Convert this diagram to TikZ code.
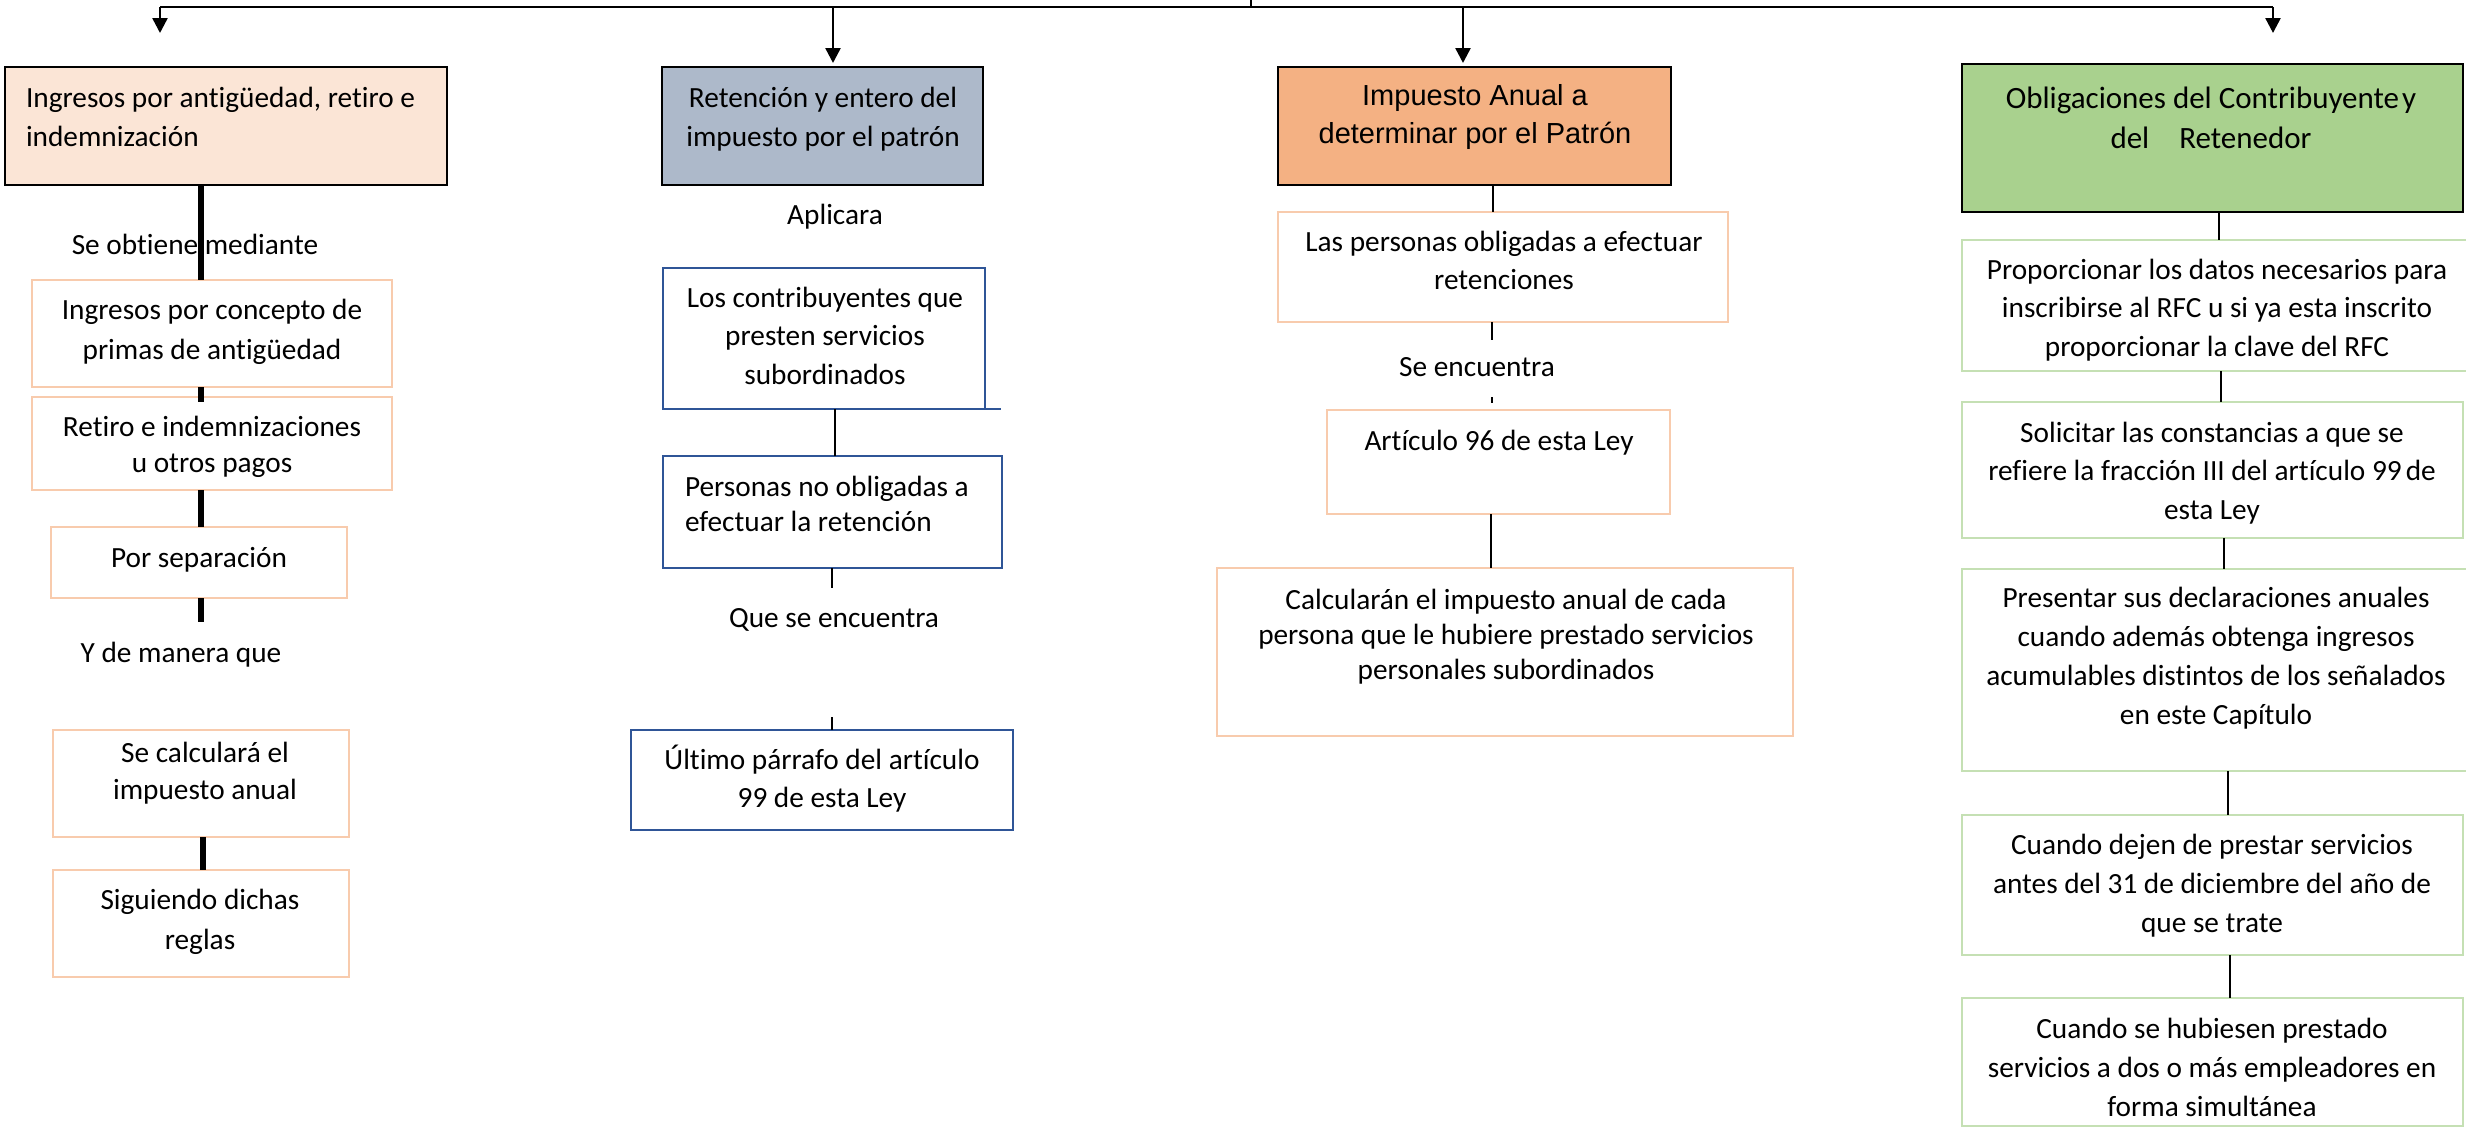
\documentclass[tikz,border=0pt]{standalone}
\usepackage{fontspec}
\setmainfont{Carlito}[Ligatures=NoCommon]
\newfontfamily\arialf{Liberation Sans}
\usetikzlibrary{arrows.meta}
\definecolor{peachfill}{HTML}{FBE5D6}
\definecolor{grayblue}{HTML}{ADB9CA}
\definecolor{orangefill}{HTML}{F4B183}
\definecolor{greenfill}{HTML}{A9D18E}
\definecolor{orangeline}{HTML}{F8CBAD}
\definecolor{blueline}{HTML}{2F5597}
\definecolor{greenline}{HTML}{C5E0B4}
\begin{document}
\begin{tikzpicture}[x=1pt,y=-1pt,
  box/.style={rectangle, inner sep=0pt, outer sep=0pt, line width=2.5pt, draw},
  hdr/.style={box, draw=black, line width=2.8pt},
  ob/.style={box, draw=orangeline},
  bb/.style={box, draw=blueline},
  gb/.style={box, draw=greenline},
  txt/.style={inner sep=0pt, outer sep=0pt, align=center, anchor=north, font=\fontsize{29.3}{#1}\selectfont},
  txt/.default=38.5,
  thk/.style={line width=6pt},
  thn/.style={line width=2.5pt},
  arr/.style={line width=2.5pt, -{Triangle[width=15pt,length=15pt]}}]
\useasboundingbox (0,0) rectangle (2466,1135);

% ---------- boxes ----------
\node[hdr, fill=peachfill, minimum width=442pt, minimum height=118pt] (B1) at (226,126) {};
\node[ob, minimum width=360pt, minimum height=107pt] (B2) at (212,333.5) {};
\node[ob, minimum width=360pt, minimum height=93pt] (B3) at (212,443.5) {};
\node[ob, minimum width=296pt, minimum height=71pt] (B4) at (199,562.5) {};
\node[ob, minimum width=296pt, minimum height=107pt] (B5) at (201,783.5) {};
\node[ob, minimum width=296pt, minimum height=107pt] (B6) at (201,923.5) {};

\node[hdr, fill=grayblue, minimum width=321pt, minimum height=118pt] (B7) at (822.5,126) {};
\node[bb, minimum width=322pt, minimum height=141pt] (B8) at (824,338.5) {};
\node[bb, minimum width=339pt, minimum height=112pt] (B9) at (832.5,512) {};
\node[bb, minimum width=382pt, minimum height=100pt] (B10) at (822,780) {};

\node[hdr, fill=orangefill, minimum width=393pt, minimum height=118pt] (B11) at (1474.5,126) {};
\node[ob, minimum width=450pt, minimum height=110pt] (B12) at (1503,267) {};
\node[ob, minimum width=343pt, minimum height=104pt] (B13) at (1498.5,462) {};
\node[ob, minimum width=576pt, minimum height=168pt] (B14) at (1505,652) {};

\node[hdr, fill=greenfill, minimum width=501pt, minimum height=148pt] (B15) at (2212.5,138) {};
\node[gb, minimum width=508pt, minimum height=131pt] (B16) at (2216,305.5) {};
\node[gb, minimum width=501pt, minimum height=136pt] (B17) at (2212.5,470) {};
\node[gb, minimum width=508pt, minimum height=202pt] (B18) at (2216,670) {};
\node[gb, minimum width=501pt, minimum height=140pt] (B19) at (2212.5,885) {};
\node[gb, minimum width=501pt, minimum height=128pt] (B20) at (2212.5,1062) {};

% ---------- texts ----------
\node[txt=39, anchor=north west, align=left] (T1) at (26,83) {\rule{0pt}{24pt}Ingresos por antigüedad, retiro e\\indemnización};
\node[txt=40] (T2) at (212,295) {\rule{0pt}{24pt}Ingresos por concepto de\\primas de antigüedad};
\node[txt=36] (T3) at (212,412) {\rule{0pt}{24pt}Retiro e indemnizaciones\\u otros pagos};
\node[txt] (T4) at (199,543) {\rule{0pt}{24pt}Por separación};
\node[txt=37] (T5) at (205,738) {\rule{0pt}{24pt}Se calculará el\\impuesto anual};
\node[txt=40] (T6) at (200,885) {\rule{0pt}{24pt}Siguiendo dichas\\reglas};

\node[txt=39] (T7) at (823,83) {\rule{0pt}{24pt}Retención y entero del\\impuesto por el patrón};
\node[txt] (T8) at (825,283) {\rule{0pt}{24pt}Los contribuyentes que\\presten servicios\\subordinados};
\node[txt=35, anchor=north west, align=left] (T9) at (685,472) {\rule{0pt}{24pt}Personas no obligadas a\\efectuar la retención};
\node[txt=38] (T10) at (822,745) {\rule{0pt}{24pt}Último párrafo del artículo\\99 de esta Ley};

\node[txt=38, font=\arialf\fontsize{29}{38}\selectfont] (T11) at (1475,81) {\rule{0pt}{24pt}Impuesto Anual a\\determinar por el Patrón};
\node[txt=38] (T12) at (1504,227) {\rule{0pt}{24pt}Las personas obligadas a efectuar\\retenciones};
\node[txt] (T13) at (1499,426) {\rule{0pt}{24pt}Artículo 96 de esta Ley};
\node[txt=35] (T14) at (1506,585) {\rule{0pt}{24pt}Calcularán el impuesto anual de cada\\persona que le hubiere prestado servicios\\personales subordinados};

\node[txt=40, font=\fontsize{31}{40}\selectfont] (T15) at (2211,84) {\rule{0pt}{24pt}Obligaciones del Contribuyente\hspace{3pt}y\\del\hspace{30pt}Retenedor};
\node[txt] (T16) at (2217,255) {\rule{0pt}{24pt}Proporcionar los datos necesarios para\\inscribirse al RFC u si ya esta inscrito\\proporcionar la clave del RFC};
\node[txt] (T17) at (2212,418) {\rule{0pt}{24pt}Solicitar las constancias a que se\\refiere la fracción III del artículo 99\hspace{4pt}de\\esta Ley};
\node[txt=39] (T18) at (2216,583) {\rule{0pt}{24pt}Presentar sus declaraciones anuales\\cuando además obtenga ingresos\\acumulables distintos de los señalados\\en este Capítulo};
\node[txt=39] (T19) at (2212,830) {\rule{0pt}{24pt}Cuando dejen de prestar servicios\\antes del 31 de diciembre del año de\\que se trate};
\node[txt=39] (T20) at (2212,1014) {\rule{0pt}{24pt}Cuando se hubiesen prestado\\servicios a dos o más empleadores en\\forma simultánea};

% ---------- top bus ----------
\coordinate (s0) at (1251,0);
\coordinate (s1) at (1251,7);
\coordinate (h1) at (160,7);
\coordinate (h2) at (833,7);
\coordinate (h3) at (1463,7);
\coordinate (h4) at (2273,7);
\coordinate (a1) at (160,33);
\coordinate (a2) at (833,63);
\coordinate (a3) at (1463,63);
\coordinate (a4) at (2273,33);
\draw[thn] (s0) -- (s1);
\draw[thn] (h1) -- (h4);
\draw[arr] (h1) -- (a1);
\draw[arr] (h2) -- (a2);
\draw[arr] (h3) -- (a3);
\draw[arr] (h4) -- (a4);

% ---------- column 1 ----------
\coordinate (k1) at (201,0);
\coordinate (k2) at (201,622);
\coordinate (k3) at (203,0);
\draw[thk] (B1.south -| k1) -- (B2.north -| k1);
\draw[thk] (B2.south -| k1) -- ([yshift=-5pt]B3.north -| k1);
\draw[thk] (B3.south -| k1) -- (B4.north -| k1);
\draw[thk] (B4.south -| k1) -- (k2);
\draw[thk] (B5.south -| k3) -- (B6.north -| k3);
\node[txt] (L1) at (195,230) {\rule{0pt}{24pt}Se obtiene mediante};
\node[txt] (L2) at (181,638) {\rule{0pt}{24pt}Y de manera que};

% ---------- column 2 ----------
\coordinate (k4) at (835,0);
\coordinate (k5) at (832,588);
\coordinate (k6) at (832,717);
\draw[thn] (B8.south -| k4) -- (B9.north -| k4);
\draw[thn] (B9.south -| k5) -- (k5);
\draw[thn] (k6) -- (B10.north -| k6);
\draw[blueline, line width=2.5pt] (B8.south east) -- ++(16,0);
\node[txt] (L3) at (835,200) {\rule{0pt}{24pt}Aplicara};
\node[txt] (L4) at (834,603) {\rule{0pt}{24pt}Que se encuentra};

% ---------- column 3 ----------
\coordinate (k7) at (1493,0);
\coordinate (k8) at (1492,340);
\coordinate (k9) at (1492,397);
\coordinate (k10) at (1492,403);
\coordinate (k11) at (1491,0);
\draw[thn] (B11.south -| k7) -- (B12.north -| k7);
\draw[thn] (B12.south -| k8) -- (k8);
\draw[thn] (k9) -- (k10);
\draw[thn] (B13.south -| k11) -- (B14.north -| k11);
\node[txt] (L5) at (1477,352) {\rule{0pt}{24pt}Se encuentra};

% ---------- column 4 ----------
\coordinate (k12) at (2219,0);
\coordinate (k13) at (2221,0);
\coordinate (k14) at (2224,0);
\coordinate (k15) at (2228,0);
\coordinate (k16) at (2230,0);
\draw[thn] (B15.south -| k12) -- (B16.north -| k12);
\draw[thn] (B16.south -| k13) -- (B17.north -| k13);
\draw[thn] (B17.south -| k14) -- (B18.north -| k14);
\draw[thn] (B18.south -| k15) -- (B19.north -| k15);
\draw[thn] (B19.south -| k16) -- (B20.north -| k16);
\end{tikzpicture}
\end{document}
